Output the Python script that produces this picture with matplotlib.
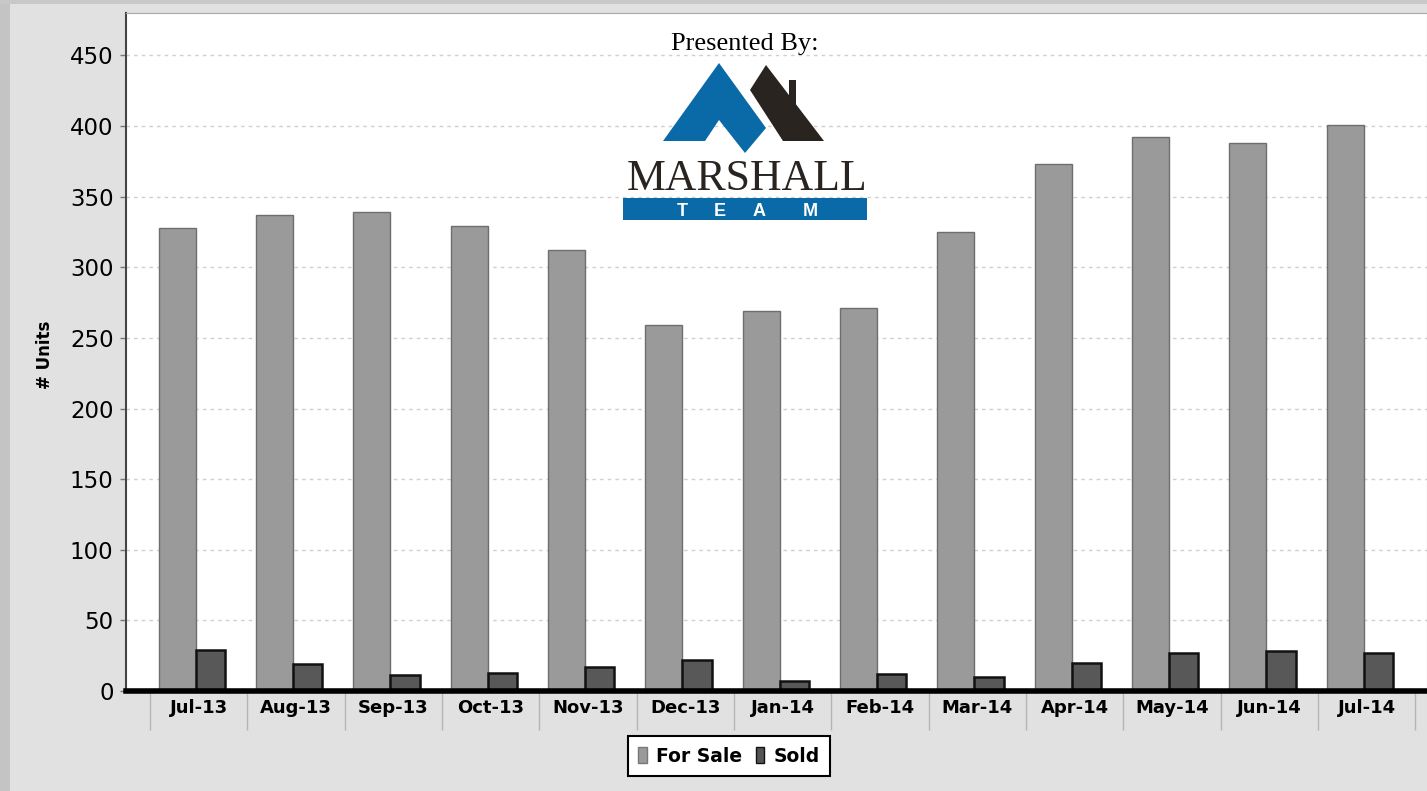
import matplotlib
matplotlib.use("Agg")
import matplotlib.pyplot as plt
from matplotlib.patches import Polygon, Rectangle, Patch

# data
months = ["Jul-13", "Aug-13", "Sep-13", "Oct-13", "Nov-13", "Dec-13", "Jan-14",
          "Feb-14", "Mar-14", "Apr-14", "May-14", "Jun-14", "Jul-14"]
for_sale = [328, 337, 339, 329, 312, 259, 269, 271, 325, 373, 392, 388, 401]
sold = [29, 19, 11, 13, 17, 22, 7, 12, 10, 20, 27, 28, 27]

W, H = 1427, 791
fig = plt.figure(figsize=(W / 100, H / 100), dpi=100)
fig.patch.set_facecolor("#e1e1e1")

# darker frame strips on the left and top of the screenshot
fig.patches.append(Rectangle((0, 0), 10 / W, 1, transform=fig.transFigure,
                             facecolor="#c4c4c4", edgecolor="none", zorder=0))
fig.patches.append(Rectangle((0, 1 - 4 / H), 1, 4 / H, transform=fig.transFigure,
                             facecolor="#c8c8c8", edgecolor="none", zorder=0))

ax = fig.add_axes([126 / W, 1 - 691 / H, (W - 126) / W, (691 - 13) / H])
ax.set_facecolor("white")

x = list(range(len(months)))
ax.bar([i - 0.41 for i in x], for_sale, width=0.38, align="edge",
       color="#9a9a9a", edgecolor="#6e6e6e", linewidth=1, zorder=3)
ax.bar([i - 0.03 for i in x], sold, width=0.30, align="edge",
       color="#585858", edgecolor="#111111", linewidth=1.8, zorder=3)

ax.set_xlim(-0.747, 12.62)
ax.set_ylim(0, 480)
ax.set_yticks(range(0, 451, 50))
ax.tick_params(axis="y", labelsize=16.5, length=4, width=1, color="#777777", pad=5)

# category labels in the middle, separators between categories
ax.set_xticks(x)
ax.set_xticklabels(months, fontsize=13, fontweight="bold")
ax.tick_params(axis="x", length=0, pad=6)
ax.set_xticks([i - 0.5 for i in range(len(months) + 1)], minor=True)
ax.tick_params(axis="x", which="minor", length=28, width=1, color="#b5b5b5")

ax.yaxis.grid(True, linestyle=(0, (2.5, 3)), color="#cfcfcf", linewidth=1, zorder=0)
ax.set_axisbelow(True)

ax.spines["top"].set_color("#a8a8a8")
ax.spines["right"].set_color("#bbbbbb")
ax.spines["left"].set_color("#444444")
ax.spines["left"].set_linewidth(1.5)
ax.spines["bottom"].set_color("black")
ax.spines["bottom"].set_linewidth(4)
ax.spines["bottom"].set_zorder(5)

fig.text(45 / W, 1 - 355 / H, "# Units", rotation=90, fontsize=12,
         fontweight="bold", ha="center", va="center")

# legend
handles = [Patch(facecolor="#9a9a9a", edgecolor="#777777", label="For Sale"),
           Patch(facecolor="#555555", edgecolor="#111111", label="Sold")]
leg = fig.legend(handles=handles, loc="center", bbox_to_anchor=(729 / W, 1 - 756 / H),
                 ncol=2, prop={"weight": "bold", "size": 13.5},
                 handlelength=0.45, handleheight=1.0, handletextpad=0.5,
                 columnspacing=0.7, borderpad=0.55, borderaxespad=0,
                 fancybox=False, framealpha=1, edgecolor="black")
leg.get_frame().set_linewidth(1.5)


# logo, drawn in figure pixels
def px(pts):
    return [(a / W, 1 - b / H) for a, b in pts]


blue = "#0a6aa7"
dark = "#2a2420"
fig.text(745 / W, 1 - 50 / H, "Presented By:", family="Liberation Serif",
         fontsize=19, ha="center", va="baseline")
fig.patches.append(Polygon(px([(719, 63), (663, 141), (705, 141), (719, 120),
                               (745, 153), (766, 128)]),
                           transform=fig.transFigure, facecolor=blue, edgecolor="none"))
fig.patches.append(Polygon(px([(750, 90), (766, 65), (824, 141), (783, 141)]),
                           transform=fig.transFigure, facecolor=dark, edgecolor="none"))
fig.patches.append(Rectangle((789 / W, 1 - 110 / H), 7 / W, 30 / H,
                             transform=fig.transFigure, facecolor=dark, edgecolor="none"))
fig.text(747 / W, 1 - 190 / H, "MARSHALL", family="Liberation Serif",
         fontsize=31.5, ha="center", va="baseline", color=dark)
fig.patches.append(Rectangle((623 / W, 1 - 220 / H), 244 / W, 22 / H,
                             transform=fig.transFigure, facecolor=blue, edgecolor="none"))
for letter, lx in zip("TEAM", [682, 720, 759, 810]):
    fig.text(lx / W, 1 - 215.5 / H, letter, color="white", fontsize=13,
             family="Liberation Sans", fontweight="bold", ha="center", va="baseline")

fig.savefig("out.png", dpi=100, facecolor=fig.get_facecolor())
